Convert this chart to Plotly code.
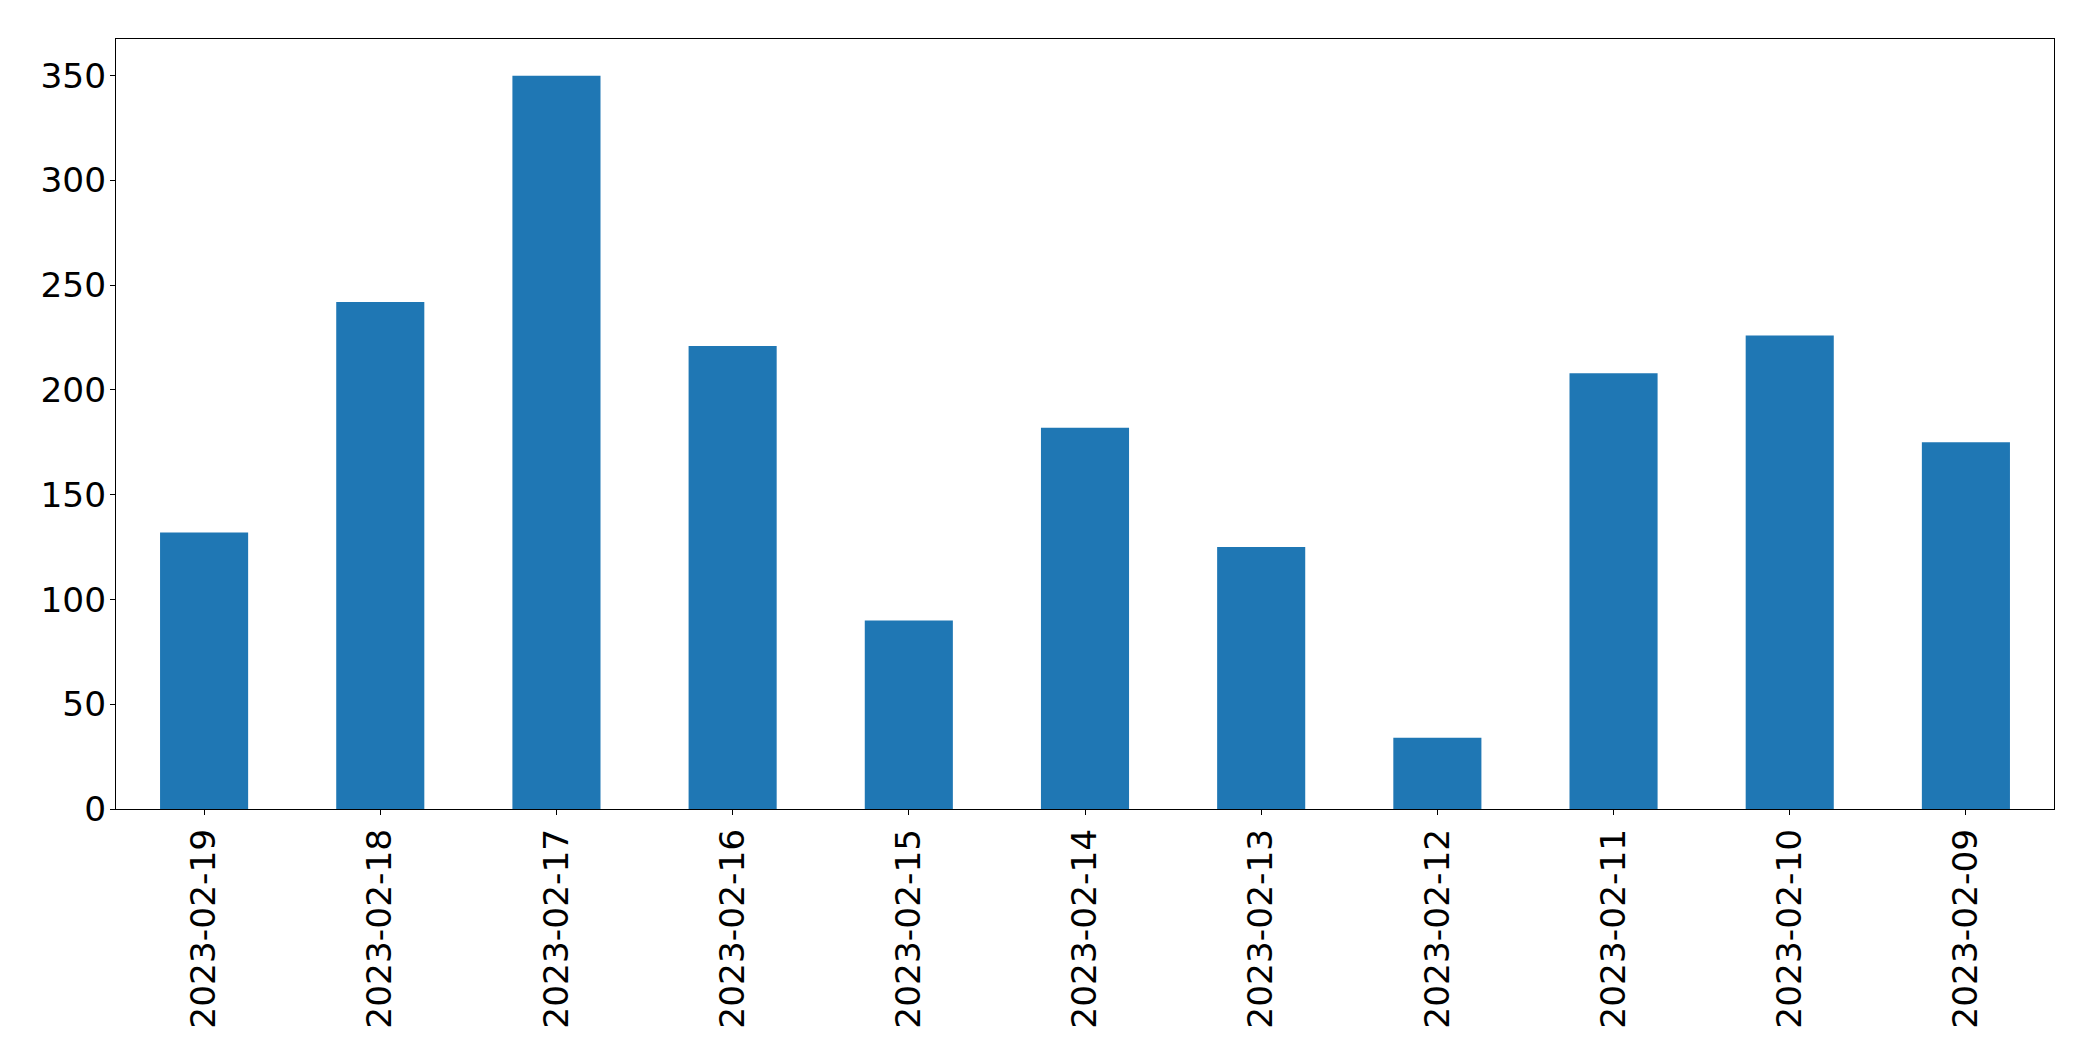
import plotly.graph_objects as go

dates = ["2023-02-19", "2023-02-18", "2023-02-17", "2023-02-16", "2023-02-15",
         "2023-02-14", "2023-02-13", "2023-02-12", "2023-02-11", "2023-02-10", "2023-02-09"]
counts = [132, 242, 350, 221, 90, 182, 125, 34, 208, 226, 175]
y_ticks = [0, 50, 100, 150, 200, 250, 300, 350]

fig = go.Figure()
fig.add_trace(go.Bar(x=dates, y=counts, marker=dict(color="#1f77b4", line=dict(width=0))))

font = dict(family="DejaVu Sans", size=34.4, color="black")
# page body has an 8px default margin, so the figure is offset by 8px
fig.update_layout(
    width=2085, height=1053,
    margin=dict(l=108, r=39, t=31, b=252),
    paper_bgcolor="white", plot_bgcolor="white",
    bargap=0.5, showlegend=False, font=font,
)
fig.update_xaxes(
    type="category", range=[-0.5, len(dates) - 0.5], tickangle=-90,
    showline=True, mirror=True, linecolor="black", linewidth=1.1,
    ticks="outside", ticklen=5, tickwidth=1.1, tickcolor="black",
    showgrid=False, zeroline=False, tickfont=font,
)
fig.update_yaxes(
    range=[0, 367.5], tickvals=y_ticks, ticktext=[str(v) for v in y_ticks],
    showline=True, mirror=True, linecolor="black", linewidth=1.1,
    ticks="outside", ticklen=5, tickwidth=1.1, tickcolor="black",
    ticklabelstandoff=-3,
    showgrid=False, zeroline=False, tickfont=font,
)
fig.write_html("out.html")
